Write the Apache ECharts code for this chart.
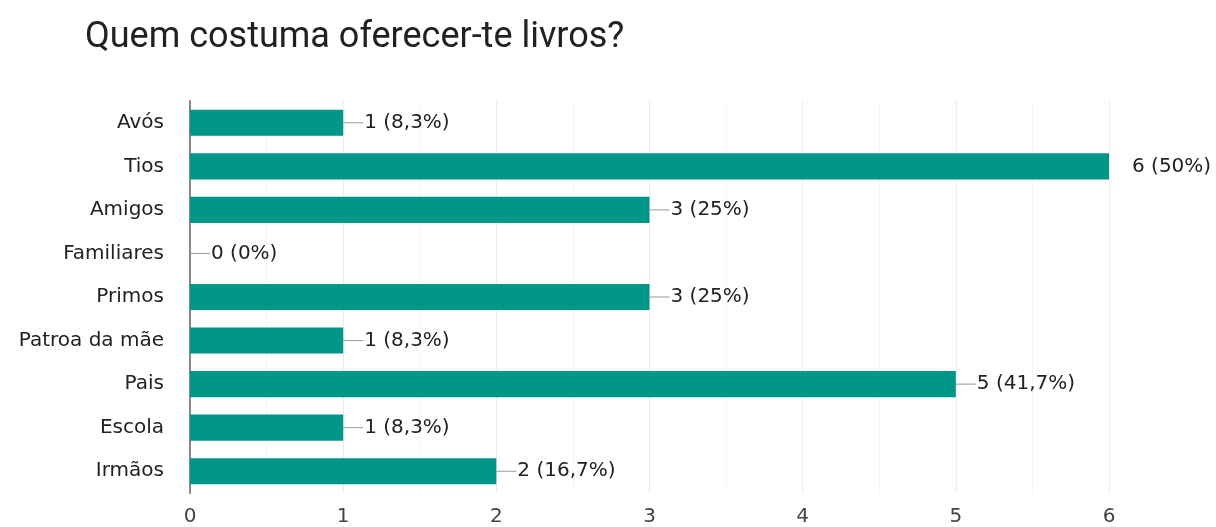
<!DOCTYPE html>
<html>
<head>
<meta charset="utf-8">
<script src="https://cdn.jsdelivr.net/npm/echarts@6/dist/echarts.min.js"></script>
<style>
  html, body { margin: 0; padding: 0; background: #fff; }
  #chart { width: 1216px; height: 527px; }
</style>
</head>
<body>
<div id="chart"></div>
<script>
// dados do gráfico
const categorias = ['Avós', 'Tios', 'Amigos', 'Familiares', 'Primos', 'Patroa da mãe', 'Pais', 'Escola', 'Irmãos'];
const valores = [1, 6, 3, 0, 3, 1, 5, 1, 2];
const percentagens = ['8,3%', '50%', '25%', '0%', '25%', '8,3%', '41,7%', '8,3%', '16,7%'];
const xTicks = [0, 1, 2, 3, 4, 5, 6];

const chart = echarts.init(document.getElementById('chart'));
const maxX = xTicks[xTicks.length - 1];
const fonte = 'DejaVu Sans';

const option = {
  animation: false,
  title: {
    text: 'Quem costuma oferecer-te livros?',
    left: 80,
    top: 15,
    textStyle: { fontFamily: 'Roboto', fontSize: 36, fontWeight: 'normal', color: '#212121' }
  },
  grid: { left: 190, right: 107, top: 101, bottom: 33 },
  xAxis: {
    type: 'value',
    min: xTicks[0],
    max: maxX,
    interval: 1,
    axisLine: { show: false },
    axisTick: { show: false },
    axisLabel: { fontFamily: fonte, fontSize: 20, color: '#444', margin: 14 },
    splitLine: { lineStyle: { color: '#ebebeb' } },
    minorTick: { show: false, splitNumber: 2 },
    minorSplitLine: { show: true, lineStyle: { color: '#f6f6f6' } }
  },
  yAxis: {
    type: 'category',
    inverse: true,
    data: categorias,
    axisLine: { lineStyle: { color: '#888', width: 2 } },
    axisTick: { show: false },
    axisLabel: { fontFamily: fonte, fontSize: 20, color: '#222', margin: 26 }
  },
  series: [{
    type: 'bar',
    data: valores,
    barCategoryGap: '40%',
    itemStyle: { color: '#009688' },
    label: {
      show: true,
      position: 'right',
      distance: 0,
      fontFamily: fonte,
      fontSize: 20,
      color: '#222',
      formatter: p => {
        // a linha de ligação fica fora do gráfico no valor máximo
        const linha = p.value === maxX ? '{h|}' : '{l|}';
        return linha + '{t|' + p.value + ' (' + percentagens[p.dataIndex] + ')}';
      },
      rich: {
        l: { width: 20, height: 1, backgroundColor: '#999' },
        h: { width: 22, height: 1 },
        t: { fontFamily: fonte, fontSize: 20, color: '#222', padding: [0, 0, 0, 1] }
      }
    }
  }]
};

chart.setOption(option);
window.addEventListener('resize', () => chart.resize());
</script>
</body>
</html>
